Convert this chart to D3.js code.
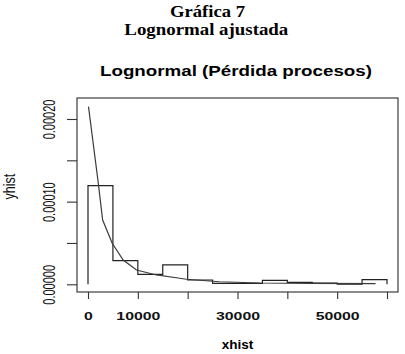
<!DOCTYPE html>
<html>
<head>
<meta charset="utf-8">
<script src="https://cdn.jsdelivr.net/npm/d3@7"></script>
<style>
  body { margin: 0; background: #fff; }
  svg { display: block; }
</style>
</head>
<body>
<div id="chart"></div>
<script>
// histogram: bin edges and densities
let binStarts = [0, 5000, 10000, 15000, 20000, 25000, 30000, 35000, 40000, 45000, 50000, 55000];
let binEnd = 60000;
let densities = [0.0001194, 0.0000286, 0.0000121, 0.0000234, 0.0000052, 0.0000012, 0.0000012,
                 0.0000048, 0.0000024, 0.0000016, 0.0000002, 0.0000056];

// fitted lognormal curve points
let curveX = [100, 2060, 2940, 4860, 7060, 9740, 13740, 18400, 19740, 26400, 34400, 45000, 57700];
let curveY = [0.000215, 0.0001226, 0.0000778, 0.0000496, 0.0000294, 0.0000173, 0.0000113, 0.0000073,
              0.0000061, 0.0000031, 0.0000016, 0.0000011, 0.0000008];

let xTicks = [0, 10000, 20000, 30000, 40000, 50000, 60000];
let xLabeled = [0, 10000, 30000, 50000];
let yTicks = [0, 0.00005, 0.0001, 0.00015, 0.0002];
let yLabeled = [0, 0.0001, 0.0002];

let W = 405, H = 354;
let box = {left: 77, top: 98, right: 398, bottom: 292};

let svg = d3.select("#chart").append("svg")
    .attr("width", W)
    .attr("height", H);

svg.append("rect").attr("width", W).attr("height", H).attr("fill", "#fff");

let x = d3.scaleLinear().domain([0, 60000]).range([88, 387]);
let y = d3.scaleLinear().domain([0, 0.0002]).range([284.3, 119]);

// headings
svg.append("text")
    .attr("x", 207.5).attr("y", 16.7)
    .attr("text-anchor", "middle")
    .attr("textLength", 75).attr("lengthAdjust", "spacingAndGlyphs")
    .style("font-family", "'Liberation Serif', 'Times New Roman', serif")
    .style("font-weight", "bold")
    .style("font-size", "16.5px")
    .text("Gráfica 7");

svg.append("text")
    .attr("x", 206.3).attr("y", 35)
    .attr("text-anchor", "middle")
    .attr("textLength", 164).attr("lengthAdjust", "spacingAndGlyphs")
    .style("font-family", "'Liberation Serif', 'Times New Roman', serif")
    .style("font-weight", "bold")
    .style("font-size", "16.5px")
    .text("Lognormal ajustada");

svg.append("text")
    .attr("x", 236).attr("y", 76)
    .attr("text-anchor", "middle")
    .attr("textLength", 272).attr("lengthAdjust", "spacingAndGlyphs")
    .style("font-family", "'Liberation Sans', Arial, sans-serif")
    .style("font-weight", "bold")
    .style("font-size", "15px")
    .text("Lognormal (Pérdida procesos)");

// plot box
svg.append("rect")
    .attr("x", box.left).attr("y", box.top)
    .attr("width", box.right - box.left)
    .attr("height", box.bottom - box.top)
    .attr("fill", "none")
    .attr("stroke", "#2a2a2a")
    .attr("stroke-width", 1.1);

// x axis
let xAxis = svg.append("g")
    .attr("transform", `translate(0,${box.bottom})`)
    .call(d3.axisBottom(x).tickValues(xTicks).tickSize(7)
        .tickFormat(d => xLabeled.includes(d) ? String(d) : ""));
xAxis.select(".domain").remove();
xAxis.selectAll("line").attr("stroke", "#333").attr("stroke-width", 1.1);
xAxis.selectAll("text")
    .attr("y", 0).attr("dy", null)
    .attr("transform", "translate(0,28)")
    .attr("textLength", d => String(d).length * 8.8)
    .attr("lengthAdjust", "spacingAndGlyphs")
    .style("font-family", "'Liberation Sans', Arial, sans-serif")
    .style("font-weight", "bold")
    .style("font-size", "11.5px")
    .attr("fill", "#111");

// y axis
let yAxis = svg.append("g")
    .attr("transform", `translate(${box.left},0)`)
    .call(d3.axisLeft(y).tickValues(yTicks).tickSize(10)
        .tickFormat(d => yLabeled.includes(d) ? d3.format(".5f")(d) : ""));
yAxis.select(".domain").remove();
yAxis.selectAll("line").attr("stroke", "#333").attr("stroke-width", 1.1);
yAxis.selectAll("text")
    .attr("x", null).attr("dy", null)
    .attr("text-anchor", "middle")
    .attr("transform", "translate(-22,0) scale(1.45,1) rotate(-90)")
    .style("font-family", "'Liberation Sans', Arial, sans-serif")
    .style("font-size", "11px")
    .attr("fill", "#111");

// axis titles
svg.append("text")
    .attr("x", 237.5).attr("y", 349)
    .attr("text-anchor", "middle")
    .attr("textLength", 31.6).attr("lengthAdjust", "spacingAndGlyphs")
    .style("font-family", "'Liberation Sans', Arial, sans-serif")
    .style("font-weight", "bold")
    .style("font-size", "12.5px")
    .text("xhist");

svg.append("text")
    .attr("transform", "translate(15,186.7) scale(1.35,1) rotate(-90)")
    .attr("text-anchor", "middle")
    .style("font-family", "'Liberation Sans', Arial, sans-serif")
    .style("font-size", "12.5px")
    .attr("fill", "#111")
    .text("yhist");

// histogram drawn as a step outline
let steps = [[0, 0]];
binStarts.forEach((b, i) => {
    let e = i < binStarts.length - 1 ? binStarts[i + 1] : binEnd;
    steps.push([b, densities[i]]);
    steps.push([e, densities[i]]);
});
steps.push([binEnd, 0]);

let line = d3.line().x(d => x(d[0])).y(d => y(d[1]));

svg.append("path")
    .datum(steps)
    .attr("d", line)
    .attr("fill", "none")
    .attr("stroke", "#222")
    .attr("stroke-width", 1.2);

// fitted density curve
svg.append("path")
    .datum(curveX.map((v, i) => [v, curveY[i]]))
    .attr("d", line)
    .attr("fill", "none")
    .attr("stroke", "#3a3a3a")
    .attr("stroke-width", 1.2);
</script>
</body>
</html>
